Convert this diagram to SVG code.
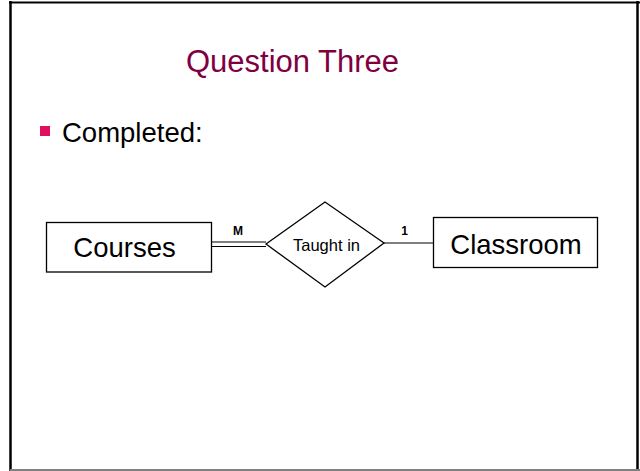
<svg xmlns="http://www.w3.org/2000/svg" width="640" height="471" viewBox="0 0 640 471">
  <style>
    .ent { fill: #ffffff; stroke: #000000; stroke-width: 1.3; }
    .lbl { font-family: "Liberation Sans", Arial, sans-serif; fill: #000000; }
    .card { font-family: "Liberation Sans", Arial, sans-serif; font-weight: bold; font-size: 12px; fill: #000000; }
    .conn { stroke: #000000; stroke-width: 1.2; fill: none; }
  </style>
  <rect x="0" y="0" width="640" height="471" fill="#ffffff"/>
  <!-- slide frame -->
  <line x1="10.5" y1="1" x2="10.5" y2="471" stroke="#000000" stroke-width="2.5"/>
  <line x1="9" y1="2.5" x2="640" y2="2.5" stroke="#000000" stroke-width="2"/>
  <line x1="637.5" y1="1" x2="637.5" y2="471" stroke="#000000" stroke-width="2.5"/>
  <line x1="10" y1="470" x2="640" y2="470" stroke="#808080" stroke-width="2"/>

  <text x="292.5" y="72" text-anchor="middle" font-family="'Liberation Sans', Arial, sans-serif" font-size="31" fill="#80003F">Question Three</text>
  <rect x="40" y="126" width="10" height="10" fill="#E0105F"/>
  <text x="62" y="142" font-family="'Liberation Sans', Arial, sans-serif" font-size="27.5" fill="#000000">Completed:</text>

  <g id="connectors">
    <line class="conn" x1="211" y1="242" x2="266" y2="242"/>
    <line class="conn" x1="211" y1="246.5" x2="266" y2="246.5"/>
    <line class="conn" x1="384" y1="243" x2="433" y2="243"/>
    <text class="card" x="238" y="235" text-anchor="middle">M</text>
    <text class="card" x="404.5" y="235" text-anchor="middle">1</text>
  </g>

  <g id="courses">
    <rect class="ent" x="46.5" y="222.5" width="165" height="49.5"/>
    <text class="lbl" x="124.5" y="257" text-anchor="middle" font-size="27.5">Courses</text>
  </g>

  <g id="taught-in">
    <polygon class="ent" points="266,244 325,202 384,243 325,287"/>
    <text class="lbl" x="326.5" y="250.5" text-anchor="middle" font-size="16.5">Taught in</text>
  </g>

  <g id="classroom">
    <rect class="ent" x="433.5" y="217.5" width="164" height="50"/>
    <text class="lbl" x="516" y="253.5" text-anchor="middle" font-size="27.5">Classroom</text>
  </g>
</svg>
